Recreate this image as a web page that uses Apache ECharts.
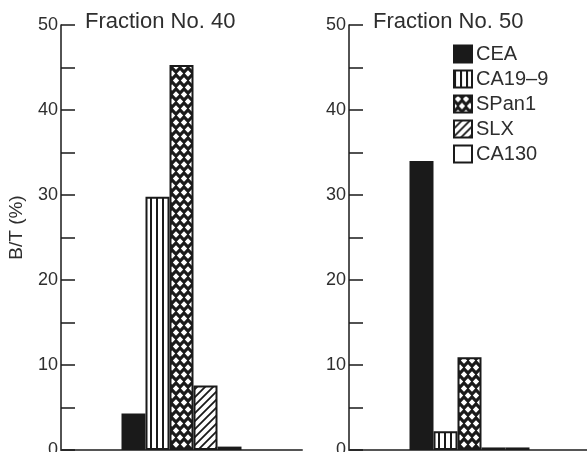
<!DOCTYPE html>
<html>
<head>
<meta charset="utf-8">
<script src="https://cdn.jsdelivr.net/npm/echarts@6/dist/echarts.min.js"></script>
<style>
  html, body { margin: 0; padding: 0; background: #ffffff; }
  #chart { width: 587px; height: 452px; }
</style>
</head>
<body>
<div id="chart"></div>
<script>
// Tumour markers measured in each fraction (B/T, %)
const markers = ['CEA', 'CA19\u20139', 'SPan1', 'SLX', 'CA130'];
const fraction40 = [4.3, 29.8, 45.3, 7.6, 0.4];
const fraction50 = [34.0, 2.2, 10.9, 0.3, 0.3];
const panelTitles = ['Fraction No. 40', 'Fraction No. 50'];
const yTicks = [0, 10, 20, 30, 40, 50];

const INK = '#1a1a1a';
const TEXT = '#2e2e2e';
const FONT = '"Liberation Sans", Arial, Helvetica, sans-serif';

function tile(w, h, draw) {
  const c = document.createElement('canvas');
  c.width = w; c.height = h;
  const ctx = c.getContext('2d');
  draw(ctx, w, h);
  return c;
}

// Vertical rules
const vlines = tile(6, 4, (ctx, w, h) => {
  ctx.fillStyle = '#fff'; ctx.fillRect(0, 0, w, h);
  ctx.fillStyle = INK; ctx.fillRect(0, 0, 2, h);
});
// Dense cross-hatch: dark ground with white diamond holes
const cross = tile(8, 14, (ctx, w, h) => {
  ctx.fillStyle = INK; ctx.fillRect(0, 0, w, h);
  ctx.fillStyle = '#fff';
  const diamond = (cx, cy, r) => {
    ctx.beginPath();
    ctx.moveTo(cx, cy - r); ctx.lineTo(cx + r, cy);
    ctx.lineTo(cx, cy + r); ctx.lineTo(cx - r, cy);
    ctx.closePath(); ctx.fill();
  };
  diamond(4, 3.5, 3.2);
  diamond(0, 10.5, 3.2);
  diamond(8, 10.5, 3.2);
});
// Forward diagonal hatching
const diag = tile(8, 8, (ctx, w, h) => {
  ctx.fillStyle = '#fff'; ctx.fillRect(0, 0, w, h);
  ctx.strokeStyle = INK; ctx.lineWidth = 1.8;
  ctx.beginPath();
  ctx.moveTo(-2, h + 2); ctx.lineTo(w + 2, -2);
  ctx.moveTo(-2, 2); ctx.lineTo(2, -2);
  ctx.moveTo(w - 2, h + 2); ctx.lineTo(w + 2, h - 2);
  ctx.stroke();
});

const fills = [
  INK,
  { image: vlines, repeat: 'repeat' },
  { image: cross, repeat: 'repeat' },
  { image: diag, repeat: 'repeat' },
  '#ffffff'
];

const panels = [fraction40, fraction50];
const gridLefts = [61, 349];

const grids = gridLefts.map(l => ({
  left: l, top: 25, width: 241, bottom: 2,
  containLabel: false,
  outerBoundsMode: 'none'
}));

const xAxes = gridLefts.map((_, i) => ({
  type: 'category',
  gridIndex: i,
  data: [''],
  axisTick: { show: false },
  axisLabel: { show: false },
  axisLine: { lineStyle: { color: '#555', width: 2 } }
}));

const yAxes = gridLefts.map((_, i) => ({
  type: 'value',
  gridIndex: i,
  min: yTicks[0],
  max: yTicks[yTicks.length - 1],
  interval: 5,
  splitLine: { show: false },
  axisLine: { show: true, lineStyle: { color: INK, width: 1.5 } },
  axisTick: { show: true, inside: true, length: 14, lineStyle: { color: INK, width: 1.5 } },
  axisLabel: {
    margin: 3,
    color: TEXT,
    fontFamily: FONT,
    fontSize: 18,
    formatter: v => (yTicks.indexOf(v) >= 0 ? String(v) : '')
  },
  name: i === 0 ? 'B/T (%)' : '',
  nameLocation: 'middle',
  nameRotate: 90,
  nameGap: 35,
  nameTextStyle: { color: TEXT, fontFamily: FONT, fontSize: 19, padding: [0, 0, 0, 20] }
}));

const series = [];
panels.forEach((vals, p) => {
  markers.forEach((m, k) => {
    series.push({
      type: 'bar',
      name: m,
      xAxisIndex: p,
      yAxisIndex: p,
      data: [vals[k]],
      barWidth: 24,
      barGap: '0%',
      itemStyle: { color: fills[k], borderColor: INK, borderWidth: 2 },
      emphasis: { disabled: true }
    });
  });
});

const chart = echarts.init(document.getElementById('chart'), null, { renderer: 'canvas' });
chart.setOption({
  animation: false,
  backgroundColor: '#ffffff',
  title: panelTitles.map((t, i) => ({
    text: t,
    left: gridLefts[i] + 24,
    top: 11,
    padding: 0,
    textStyle: { color: TEXT, fontFamily: FONT, fontSize: 22, fontWeight: 'normal' }
  })),
  legend: {
    data: markers,
    orient: 'vertical',
    left: 453,
    top: 44,
    padding: 0,
    icon: 'rect',
    itemWidth: 18,
    itemHeight: 17,
    itemGap: 5,
    textStyle: { color: TEXT, fontFamily: FONT, fontSize: 20, padding: [0, 0, 0, -1] }
  },
  grid: grids,
  xAxis: xAxes,
  yAxis: yAxes,
  series: series
});
</script>
</body>
</html>
